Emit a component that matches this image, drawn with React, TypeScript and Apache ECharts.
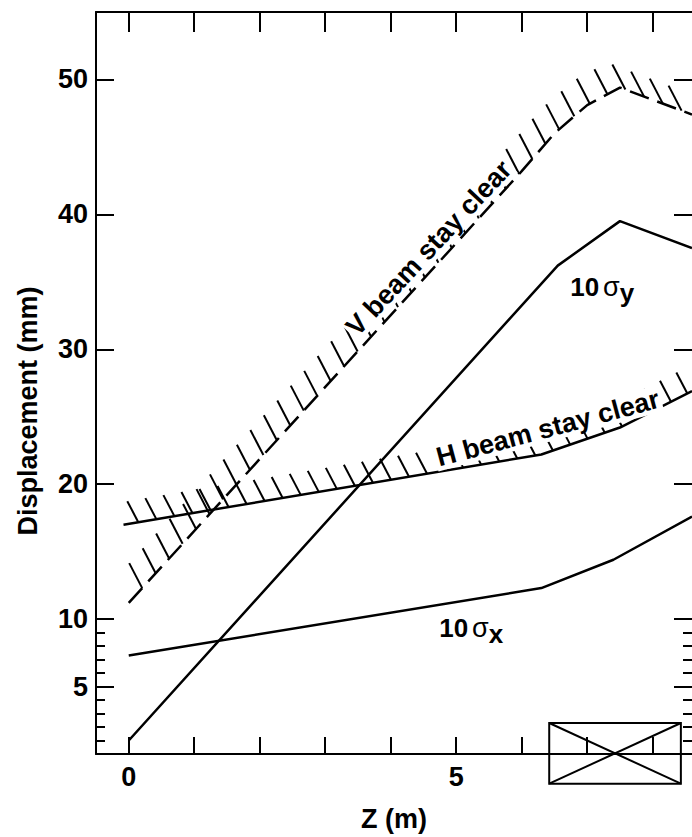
import React, { useEffect, useRef } from 'react';
import * as echarts from 'echarts';

// ---- axis ticks / labels ----
const zTicks = [0, 1, 2, 3, 4, 5, 6, 7, 8];
const zLabels = [0, 5];
const yMajorTicks = [5, 10, 20, 30, 40, 50];
const yMinorTicks = [1, 2, 3, 4, 6, 7, 8, 9];

// ---- curves (Z in m, displacement in mm) ----
const sigmaYZ = [0, 6.55, 7.5, 8.6];
const sigmaY = [1.0, 36.2, 39.5, 37.5];
const sigmaXZ = [0, 6.3, 7.4, 8.6];
const sigmaX = [7.3, 12.3, 14.4, 17.6];
const hStayZ = [-0.08, 6.3, 7.5, 8.6];
const hStay = [17.0, 22.2, 24.2, 26.9];
const vStayZ = [0, 6.0, 6.5, 7.0, 7.5, 8.6];
const vStay = [11.2, 43.2, 46.0, 48.1, 49.4, 47.4];

// ---- magnet symbol ----
const magnetZ = [6.42, 8.43];
const magnetV = [-2.2, 2.3];

// ---- in-plot labels ----
const labelTexts = ['V beam stay clear', 'H beam stay clear'];
const labelZ = [4.58, 6.4];
const labelV = [37.5, 24.15];
const labelRot = [47, 15];

const sigmaSubs = ['y', 'x'];
const sigmaLabelZ = [6.74, 4.74];
const sigmaLabelV = [34.6, 9.35];

const FONT = '"Liberation Sans", Arial, Helvetica, sans-serif';

function makeHatch(zs: number[], vs: number[], spacing: number, offset: number, hx: number, hy: number) {
  return (params: any, api: any) => {
    if (params.dataIndex !== 0) return null;
    const pts = zs.map((z, i) => api.coord([z, vs[i]]));
    const children: any[] = [];
    let t = offset;
    for (let i = 0; i < pts.length - 1; i++) {
      const [x0, y0] = pts[i];
      const [x1, y1] = pts[i + 1];
      const len = Math.hypot(x1 - x0, y1 - y0);
      while (t <= len) {
        const px = x0 + ((x1 - x0) * t) / len;
        const py = y0 + ((y1 - y0) * t) / len;
        children.push({
          type: 'line',
          shape: { x1: px, y1: py, x2: px + hx, y2: py + hy },
          style: { stroke: '#000', lineWidth: 2 },
        });
        t += spacing;
      }
      t -= len;
    }
    return { type: 'group', children };
  };
}

const tickStyle = { color: '#000', width: 2 };
const labelFont = { color: '#000', fontSize: 27, fontWeight: 'bold' as const, fontFamily: FONT };

const option: any = {
  animation: false,
  backgroundColor: '#fff',
  grid: { left: 96, right: 0, top: 12, bottom: 78 },
  xAxis: [
    {
      type: 'value',
      min: -0.5,
      max: 8.6,
      position: 'bottom',
      axisLine: { onZero: false, lineStyle: tickStyle },
      axisTick: { inside: true, length: 17, customValues: zTicks, lineStyle: tickStyle },
      axisLabel: { customValues: zLabels, margin: 9, ...labelFont },
      splitLine: { show: false },
      name: 'Z (m)',
      nameLocation: 'middle',
      nameGap: 51,
      nameTextStyle: { ...labelFont },
    },
    {
      type: 'value',
      min: -0.5,
      max: 8.6,
      position: 'top',
      axisLine: { onZero: false, lineStyle: tickStyle },
      axisTick: { inside: true, length: 20, customValues: zTicks, lineStyle: tickStyle },
      axisLabel: { show: false },
      splitLine: { show: false },
    },
  ],
  yAxis: [
    {
      type: 'value',
      min: 0,
      max: 55,
      position: 'left',
      axisLine: { onZero: false, lineStyle: tickStyle },
      axisTick: { inside: true, length: 18, customValues: yMajorTicks, lineStyle: tickStyle },
      axisLabel: { customValues: yMajorTicks, margin: 8, ...labelFont },
      splitLine: { show: false },
    },
    {
      type: 'value',
      min: 0,
      max: 55,
      position: 'left',
      axisLine: { show: false, onZero: false },
      axisTick: { inside: true, length: 9, customValues: yMinorTicks, lineStyle: tickStyle },
      axisLabel: { show: false },
      splitLine: { show: false },
    },
    {
      type: 'value',
      min: 0,
      max: 55,
      position: 'right',
      axisLine: { show: false, onZero: false },
      axisTick: { inside: true, length: 18, customValues: yMajorTicks, lineStyle: tickStyle },
      axisLabel: { show: false },
      splitLine: { show: false },
    },
    {
      type: 'value',
      min: 0,
      max: 55,
      position: 'right',
      axisLine: { show: false, onZero: false },
      axisTick: { inside: true, length: 9, customValues: yMinorTicks, lineStyle: tickStyle },
      axisLabel: { show: false },
      splitLine: { show: false },
    },
  ],
  graphic: [
    {
      type: 'text',
      x: 28,
      y: 411,
      rotation: Math.PI / 2,
      style: {
        text: 'Displacement (mm)',
        font: `bold 27px ${FONT}`,
        fill: '#000',
        align: 'center',
        verticalAlign: 'middle',
      },
    },
  ],
  series: [
    {
      type: 'custom',
      name: 'H hatch',
      renderItem: makeHatch(hStayZ, hStay, 18.3, 15, -11, -21),
      data: hStayZ.map((z, i) => [z, hStay[i]]),
      encode: { x: 0, y: 1 },
      clip: false,
      silent: true,
      z: 2,
    },
    {
      type: 'custom',
      name: 'V hatch',
      renderItem: makeHatch(vStayZ, vStay, 20, 20, -13, -25),
      data: vStayZ.map((z, i) => [z, vStay[i]]),
      encode: { x: 0, y: 1 },
      clip: false,
      silent: true,
      z: 2,
    },
    {
      type: 'line',
      name: '10 sigma y',
      data: sigmaYZ.map((z, i) => [z, sigmaY[i]]),
      symbol: 'none',
      lineStyle: { color: '#000', width: 2.5 },
      silent: true,
      z: 3,
    },
    {
      type: 'line',
      name: '10 sigma x',
      data: sigmaXZ.map((z, i) => [z, sigmaX[i]]),
      symbol: 'none',
      lineStyle: { color: '#000', width: 2.5 },
      silent: true,
      z: 3,
    },
    {
      type: 'line',
      name: 'H beam stay clear',
      data: hStayZ.map((z, i) => [z, hStay[i]]),
      symbol: 'none',
      lineStyle: { color: '#000', width: 2.5 },
      silent: true,
      z: 3,
    },
    {
      type: 'line',
      name: 'V beam stay clear',
      data: vStayZ.map((z, i) => [z, vStay[i]]),
      symbol: 'none',
      lineStyle: { color: '#000', width: 2.5, type: [20, 9] },
      silent: true,
      z: 3,
    },
    {
      type: 'custom',
      name: 'magnet',
      data: [[magnetZ[0], magnetV[0], magnetZ[1], magnetV[1]]],
      encode: { x: [0, 2], y: [1, 3] },
      clip: false,
      silent: true,
      z: 4,
      renderItem: (params: any, api: any) => {
        const p0 = api.coord([api.value(0), api.value(1)]);
        const p1 = api.coord([api.value(2), api.value(3)]);
        const st = { stroke: '#000', lineWidth: 2, fill: 'none' };
        return {
          type: 'group',
          children: [
            { type: 'rect', shape: { x: p0[0], y: p1[1], width: p1[0] - p0[0], height: p0[1] - p1[1] }, style: st },
            { type: 'line', shape: { x1: p0[0], y1: p1[1], x2: p1[0], y2: p0[1] }, style: st },
            { type: 'line', shape: { x1: p0[0], y1: p0[1], x2: p1[0], y2: p1[1] }, style: st },
          ],
        };
      },
    },
    {
      type: 'custom',
      name: 'stay clear labels',
      data: labelZ.map((z, i) => [z, labelV[i], labelRot[i]]),
      encode: { x: 0, y: 1 },
      clip: false,
      silent: true,
      z: 5,
      renderItem: (params: any, api: any) => {
        const p = api.coord([api.value(0), api.value(1)]);
        return {
          type: 'text',
          x: p[0],
          y: p[1],
          rotation: (api.value(2) * Math.PI) / 180,
          style: {
            text: labelTexts[params.dataIndex],
            font: `bold 27px ${FONT}`,
            fill: '#000',
            align: 'center',
            verticalAlign: 'middle',
            backgroundColor: '#fff',
            padding: [0, 2],
          },
        };
      },
    },
    {
      type: 'custom',
      name: 'sigma labels',
      data: sigmaLabelZ.map((z, i) => [z, sigmaLabelV[i]]),
      encode: { x: 0, y: 1 },
      clip: false,
      silent: true,
      z: 5,
      renderItem: (params: any, api: any) => {
        const p = api.coord([api.value(0), api.value(1)]);
        return {
          type: 'text',
          x: p[0],
          y: p[1],
          style: {
            text: `{a|10}{s|σ}{b|${sigmaSubs[params.dataIndex]}}`,
            align: 'left',
            verticalAlign: 'middle',
            rich: {
              a: { font: `bold 26px ${FONT}`, fill: '#000' },
              s: { font: `27px ${FONT}`, fill: '#000', padding: [0, 0, 0, 4] },
              b: { font: `bold 26px ${FONT}`, fill: '#000', padding: [12, 0, 0, 0] },
            },
          },
        };
      },
    },
  ],
};

export default function App() {
  const ref = useRef<HTMLDivElement>(null);
  useEffect(() => {
    document.body.style.margin = '0';
    const chart = echarts.init(ref.current!, null, { renderer: 'svg' });
    chart.setOption(option);
    return () => chart.dispose();
  }, []);
  return <div ref={ref} style={{ width: 692, height: 837, background: '#fff' }} />;
}
